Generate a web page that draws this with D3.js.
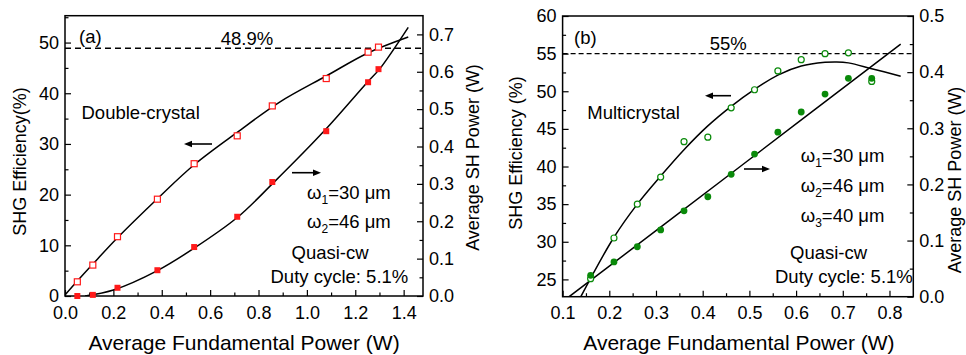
<!DOCTYPE html>
<html><head><meta charset="utf-8">
<script src="https://cdn.jsdelivr.net/npm/d3@7"></script>
<style>
html,body{margin:0;padding:0;background:#fff;}
svg{display:block;font-family:"Liberation Sans",Arial,Helvetica,sans-serif;}
</style></head><body>
<svg id="chart" width="966" height="355"></svg>
<script>
// ---- Panel (a): double-crystal SHG ----
const fundA = [0.051, 0.115, 0.217, 0.382, 0.534, 0.712, 0.857, 1.08, 1.253, 1.296];
const effA  = [2.8, 6.1, 11.7, 19.1, 26.1, 31.6, 37.5, 42.9, 48.1, 49.1];        // SHG efficiency (%)
const shA   = [0.0, 0.003, 0.022, 0.069, 0.131, 0.212, 0.305, 0.441, 0.572, 0.607]; // SH power (W)
const fitEffAx = [0, 0.05, 0.115, 0.217, 0.382, 0.534, 0.712, 0.889, 1.08, 1.25, 1.419];
const fitEffAy = [0.2, 2.9, 6.3, 11.5, 19.2, 25.9, 32.3, 38.3, 43.4, 47.9, 51.1];
const fitShAx  = [0.083, 0.2, 0.382, 0.534, 0.712, 0.857, 1.075, 1.25, 1.3, 1.419];
const fitShAy  = [0, 0.016, 0.068, 0.128, 0.21, 0.30, 0.444, 0.572, 0.607, 0.719];
const maxEffA = 48.9;
const xTicksA  = [0.0, 0.2, 0.4, 0.6, 0.8, 1.0, 1.2, 1.4];
const yLTicksA = [0, 10, 20, 30, 40, 50];
const yRTicksA = [0.0, 0.1, 0.2, 0.3, 0.4, 0.5, 0.6, 0.7];

// ---- Panel (b): multicrystal SHG ----
const fundB = [0.16, 0.21, 0.26, 0.31, 0.36, 0.411, 0.461, 0.511, 0.561, 0.611, 0.662, 0.712, 0.762];
const effB  = [25.1, 30.5, 35.0, 38.6, 43.3, 43.9, 47.8, 50.2, 52.7, 54.2, 55.0, 55.1, 51.3];
const shB   = [0.038, 0.062, 0.089, 0.119, 0.153, 0.178, 0.218, 0.254, 0.293, 0.329, 0.361, 0.389, 0.389];
const fitEffBx = [0.139, 0.209, 0.26, 0.311, 0.361, 0.411, 0.461, 0.511, 0.561, 0.611, 0.662, 0.687, 0.712, 0.762, 0.824];
const fitEffBy = [22.7, 30.5, 35.0, 38.8, 42.3, 45.4, 48.0, 50.25, 52.15, 53.35, 53.84, 53.9, 53.77, 53.0, 52.0];
const fitShBx  = [0.114, 0.46, 0.824];
const fitShBy  = [0, 0.219, 0.45];
const maxEffB = 55;
const xTicksB  = [0.1, 0.2, 0.3, 0.4, 0.5, 0.6, 0.7, 0.8];
const yLTicksB = [25, 30, 35, 40, 45, 50, 55, 60];
const yRTicksB = [0.0, 0.1, 0.2, 0.3, 0.4, 0.5];

const svg = d3.select("#chart");
svg.append("rect").attr("width", 966).attr("height", 355).attr("fill", "#fff");

const FS = 18;      // tick labels and axis titles
const FS_NOTE = 18.5; // in-plot annotations

function zip(xs, ys) { return xs.map((x, i) => [x, ys[i]]); }

function drawPanel(p) {
  const g = svg.append("g");
  const [x0, x1] = p.x.range();
  const [y0, y1] = p.yL.range(); // y0 bottom, y1 top

  const clipId = "clip-" + p.id;
  g.append("clipPath").attr("id", clipId)
    .append("rect").attr("x", x0).attr("y", y1).attr("width", x1 - x0).attr("height", y0 - y1);

  // axes with inward ticks
  function styleAxis(sel) {
    sel.select(".domain").remove();
    sel.selectAll("line").attr("stroke", "#000").attr("stroke-width", 1.2);
    sel.selectAll("text").attr("font-size", FS).attr("fill", "#000")
      .attr("font-family", '"Liberation Sans", Arial, sans-serif');
  }
  const axes = [
    [d3.axisBottom(p.x).tickValues(p.xTicks).tickFormat(d3.format(".1f")).tickSizeInner(-6).tickSizeOuter(0).tickPadding(10), `translate(0,${y0})`],
    [d3.axisBottom(p.x).tickValues(p.xMinor).tickFormat("").tickSizeInner(-3.5).tickSizeOuter(0), `translate(0,${y0})`],
    [d3.axisLeft(p.yL).tickValues(p.yLTicks).tickFormat(d3.format("d")).tickSizeInner(-6).tickSizeOuter(0).tickPadding(6), `translate(${x0},0)`],
    [d3.axisLeft(p.yL).tickValues(p.yLMinor).tickFormat("").tickSizeInner(-3.5).tickSizeOuter(0), `translate(${x0},0)`],
    [d3.axisRight(p.yR).tickValues(p.yRTicks).tickFormat(d3.format(".1f")).tickSizeInner(-6).tickSizeOuter(0).tickPadding(6), `translate(${x1},0)`],
    [d3.axisRight(p.yR).tickValues(p.yRMinor).tickFormat("").tickSizeInner(-3.5).tickSizeOuter(0), `translate(${x1},0)`]
  ];
  axes.forEach(([ax, tr]) => g.append("g").attr("transform", tr).call(ax).call(styleAxis));

  // frame
  g.append("rect").attr("x", x0).attr("y", y1).attr("width", x1 - x0).attr("height", y0 - y1)
    .attr("fill", "none").attr("stroke", "#000").attr("stroke-width", 1.5);

  // maximum efficiency reference line
  g.append("line").attr("x1", x0).attr("x2", x1)
    .attr("y1", p.yL(p.maxEff)).attr("y2", p.yL(p.maxEff))
    .attr("stroke", "#000").attr("stroke-width", p.dashW).attr("stroke-dasharray", p.dash);

  // fitted curves
  const plot = g.append("g").attr("clip-path", `url(#${clipId})`);
  const lineL = d3.line().x(d => p.x(d[0])).y(d => p.yL(d[1])).curve(d3.curveCatmullRom.alpha(0.5));
  const lineR = d3.line().x(d => p.x(d[0])).y(d => p.yR(d[1])).curve(d3.curveCatmullRom.alpha(0.5));
  plot.append("path").attr("d", lineL(zip(p.fitEffx, p.fitEffy)))
    .attr("fill", "none").attr("stroke", "#000").attr("stroke-width", 1.5);
  plot.append("path").attr("d", lineR(zip(p.fitShx, p.fitShy)))
    .attr("fill", "none").attr("stroke", "#000").attr("stroke-width", 1.5);

  // measured points
  const effPts = zip(p.fund, p.eff);
  const shPts = zip(p.fund, p.sh);
  if (p.marker === "square") {
    const s = 6;
    g.append("g").selectAll("rect").data(effPts).join("rect")
      .attr("x", d => p.x(d[0]) - s / 2).attr("y", d => p.yL(d[1]) - s / 2)
      .attr("width", s).attr("height", s)
      .attr("fill", "#fff").attr("stroke", p.color).attr("stroke-width", 1.2);
    g.append("g").selectAll("rect").data(shPts).join("rect")
      .attr("x", d => p.x(d[0]) - s / 2).attr("y", d => p.yR(d[1]) - s / 2)
      .attr("width", s).attr("height", s)
      .attr("fill", p.color);
  } else {
    g.append("g").selectAll("circle").data(effPts).join("circle")
      .attr("cx", d => p.x(d[0])).attr("cy", d => p.yL(d[1])).attr("r", 3)
      .attr("fill", "#fff").attr("stroke", p.color).attr("stroke-width", 1.2);
    g.append("g").selectAll("circle").data(shPts).join("circle")
      .attr("cx", d => p.x(d[0])).attr("cy", d => p.yR(d[1])).attr("r", 3.4)
      .attr("fill", p.color);
  }

  // axis titles
  g.append("text").attr("x", (x0 + x1) / 2 + p.xTitleDx).attr("y", 350)
    .attr("text-anchor", "middle").attr("font-size", 21).text("Average Fundamental Power (W)");
  g.append("text").attr("transform", `translate(${p.yLTitle[0]},${p.yLTitle[1]}) rotate(-90)`)
    .attr("text-anchor", "middle").attr("dy", "0.35em").attr("font-size", FS).text(p.yLTitleText);
  g.append("text").attr("transform", `translate(${p.yRTitle[0]},${p.yRTitle[1]}) rotate(-90)`)
    .attr("text-anchor", "middle").attr("dy", "0.35em").attr("font-size", FS).text("Average SH Power (W)");

  // annotations
  p.texts.forEach(t => {
    const el = g.append("text").attr("x", t.x).attr("y", t.y).attr("font-size", FS_NOTE)
      .attr("text-anchor", t.anchor || "start");
    if (t.sub) {
      el.append("tspan").text("ω");
      el.append("tspan").attr("font-size", 12).attr("dy", 5).text(t.sub);
      el.append("tspan").attr("dy", -5).text(t.rest);
    } else {
      el.text(t.text);
    }
  });
  p.arrows.forEach(a => {
    const dir = Math.sign(a.x2 - a.x1);
    const head = 8;
    g.append("line").attr("x1", a.x1).attr("x2", a.x2 - dir * head).attr("y1", a.y).attr("y2", a.y)
      .attr("stroke", "#000").attr("stroke-width", 1.6);
    g.append("path")
      .attr("d", `M${a.x2},${a.y} L${a.x2 - dir * head},${a.y - 3.2} L${a.x2 - dir * head},${a.y + 3.2} Z`)
      .attr("fill", "#000");
  });
}

drawPanel({
  id: "a",
  x: d3.scaleLinear().domain([0, 1.48]).range([65, 423]),
  yL: d3.scaleLinear().domain([0, 55.3]).range([296, 15.7]),
  yR: d3.scaleLinear().domain([0, 0.75]).range([296, 15.7]),
  xTicks: xTicksA, xMinor: d3.range(0.1, 1.45, 0.2),
  yLTicks: yLTicksA, yLMinor: d3.range(5, 56, 10),
  yRTicks: yRTicksA, yRMinor: d3.range(0.05, 0.75, 0.1),
  fund: fundA, eff: effA, sh: shA,
  fitEffx: fitEffAx, fitEffy: fitEffAy, fitShx: fitShAx, fitShy: fitShAy,
  maxEff: maxEffA, dash: "6,4", dashW: 1.5,
  marker: "square", color: "#ff1a1a",
  xTitleDx: 0,
  yLTitle: [20, 161.5], yLTitleText: "SHG Efficiency(%)",
  yRTitle: [472.5, 157.5],
  texts: [
    {x: 79, y: 43, text: "(a)"},
    {x: 247, y: 45, text: maxEffA + "%", anchor: "middle"},
    {x: 81.5, y: 119.3, text: "Double-crystal"},
    {x: 307, y: 199.3, sub: "1", rest: "=30 μm"},
    {x: 307, y: 228.3, sub: "2", rest: "=46 μm"},
    {x: 291.5, y: 259.3, text: "Quasi-cw"},
    {x: 270.5, y: 282.7, text: "Duty cycle: 5.1%"}
  ],
  arrows: [
    {x1: 212, x2: 184, y: 144},
    {x1: 292, x2: 321, y: 172.7}
  ]
});

drawPanel({
  id: "b",
  x: d3.scaleLinear().domain([0.1, 0.851]).range([562.6, 913.3]),
  yL: d3.scaleLinear().domain([22.7, 60]).range([296.7, 16]),
  yR: d3.scaleLinear().domain([0, 0.5]).range([296.7, 16]),
  xTicks: xTicksB, xMinor: d3.range(0.15, 0.85, 0.1),
  yLTicks: yLTicksB, yLMinor: d3.range(22.5, 60, 5).filter(v => v > 22.7),
  yRTicks: yRTicksB, yRMinor: d3.range(0.05, 0.5, 0.1),
  fund: fundB, eff: effB, sh: shB,
  fitEffx: fitEffBx, fitEffy: fitEffBy, fitShx: fitShBx, fitShy: fitShBy,
  maxEff: maxEffB, dash: "5,3", dashW: 1.2,
  marker: "circle", color: "#0a8a0a",
  xTitleDx: 1,
  yLTitle: [516, 153], yLTitleText: "SHG Efficiency (%)",
  yRTitle: [955, 180],
  texts: [
    {x: 574, y: 44, text: "(b)"},
    {x: 728.3, y: 50, text: maxEffB + "%", anchor: "middle"},
    {x: 587.3, y: 119, text: "Multicrystal"},
    {x: 800.7, y: 162.3, sub: "1", rest: "=30 μm"},
    {x: 800.7, y: 192.3, sub: "2", rest: "=46 μm"},
    {x: 800.7, y: 222.3, sub: "3", rest: "=40 μm"},
    {x: 790, y: 259, text: "Quasi-cw"},
    {x: 775, y: 282.7, text: "Duty cycle: 5.1%"}
  ],
  arrows: [
    {x1: 731, x2: 705, y: 95.7},
    {x1: 744, x2: 770, y: 169}
  ]
});
</script>
</body></html>
